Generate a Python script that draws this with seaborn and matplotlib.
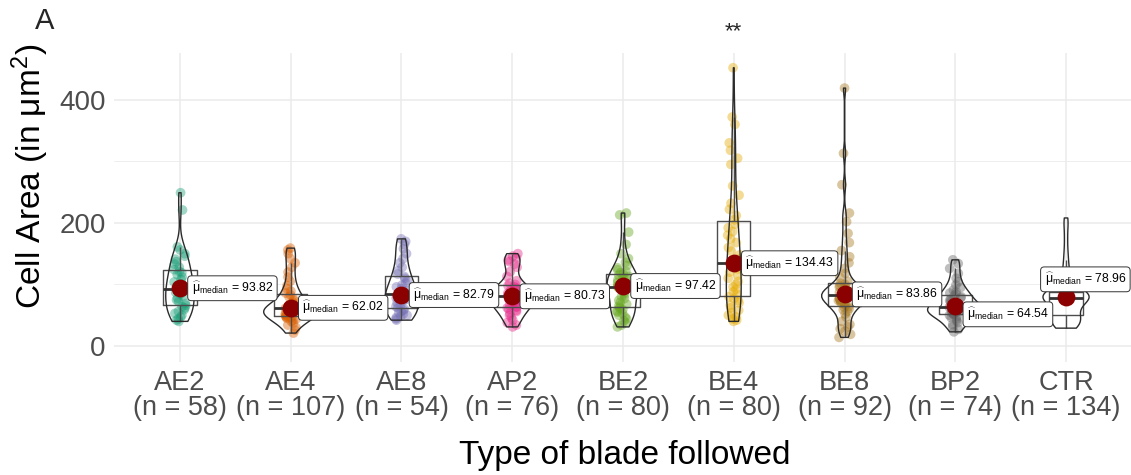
import numpy as np
import pandas as pd
import matplotlib
matplotlib.use("Agg")
import matplotlib.pyplot as plt
import seaborn as sns

# ---------------- data ----------------
groups = ["AE2", "AE4", "AE8", "AP2", "BE2", "BE4", "BE8", "BP2", "CTR"]
counts = [58, 107, 54, 76, 80, 80, 92, 74, 134]
medians = [93.82, 62.02, 82.79, 80.73, 97.42, 134.43, 83.86, 64.54, 78.96]

ae2 = [249, 221, 161, 156, 150, 146, 141, 137, 133, 128, 124, 121, 119, 116, 112,
       108, 104, 101, 98, 95, 93, 92, 90, 87, 84, 81, 78, 75, 72, 69, 66, 64, 62,
       59, 56, 53, 50, 47, 44, 42, 40]
ae4 = [159, 156, 150, 142, 135, 128, 120, 112, 105, 98, 93, 89, 86, 83, 80, 77, 74,
       71, 69, 67, 65, 64, 63, 62, 62, 61, 60, 59, 58, 57, 56, 55, 54, 53, 52, 51,
       50, 49, 48, 47, 46, 45, 44, 42, 40, 37, 34, 30, 26, 21]
ae8 = [174, 170, 165, 158, 150, 142, 135, 128, 122, 117, 113, 110, 106, 102, 99, 96,
       93, 90, 87, 85, 83, 82, 80, 78, 76, 73, 70, 67, 64, 62, 60, 58, 56, 54, 52,
       50, 48, 46, 44, 42]
ap2 = [150, 146, 143, 140, 137, 133, 128, 121, 113, 106, 102, 100, 98, 96, 94, 92,
       90, 88, 86, 85, 84, 83, 82, 81, 80, 79, 78, 77, 76, 74, 72, 70, 68, 66, 64,
       63, 62, 60, 58, 56, 53, 50, 46, 42, 38, 34, 31]
be2 = [216, 213, 185, 165, 150, 142, 136, 131, 127, 124, 121, 119, 117, 115, 113,
       111, 109, 107, 105, 103, 101, 99, 98, 97, 97, 96, 94, 92, 89, 86, 83, 80, 77,
       74, 71, 68, 65, 63, 61, 59, 57, 55, 53, 50, 47, 44, 41, 38, 34, 31]
be4 = [452, 372, 360, 330, 318, 305, 295, 260, 245, 232, 222, 212, 205, 198, 192,
       186, 180, 174, 168, 160, 154, 148, 142, 138, 135, 134, 130, 125, 120, 115,
       110, 105, 100, 96, 92, 88, 84, 80, 77, 74, 70, 66, 62, 58, 54, 50, 47, 44,
       42, 40]
be8 = [419, 313, 262, 216, 202, 183, 168, 155, 145, 135, 126, 118, 112, 105, 102,
       100, 98, 96, 94, 92, 90, 89, 88, 87, 86, 85, 84, 84, 83, 82, 81, 80, 79, 78,
       77, 76, 75, 74, 72, 70, 68, 66, 64, 63, 61, 59, 56, 52, 47, 40, 35, 31, 28,
       24, 19, 14]
bp2 = [140, 134, 126, 118, 110, 104, 99, 95, 91, 88, 86, 84, 82, 80, 78, 76, 74, 72,
       70, 68, 66, 65, 64, 63, 62, 61, 60, 59, 58, 57, 56, 55, 54, 53, 52, 51, 50,
       48, 46, 44, 41, 38, 35, 31, 27, 23]
ctr = [208, 195, 175, 155, 140, 128, 118, 110, 104, 98, 94, 91, 89, 87, 86, 85, 84,
       83, 82, 81, 80, 80, 79, 79, 79, 78, 77, 76, 74, 72, 70, 67, 64, 61, 58, 55,
       52, 50, 48, 46, 44, 42, 40, 38, 36, 34, 32, 31, 30, 29]

values = [ae2, ae4, ae8, ap2, be2, be4, be8, bp2, ctr]
point_colors = ["#1B9E77", "#D95F02", "#7570B3", "#E7298A", "#66A61E",
                "#E6AB02", "#A6761D", "#666666", None]   # Dark2 has no 9th colour

df = pd.DataFrame({"group": np.repeat(groups, [len(v) for v in values]),
                   "area": np.concatenate(values).astype(float)})
pts = df[df["group"] != "CTR"]
pal = {g: c for g, c in zip(groups, point_colors) if c is not None}

# ---------------- style ----------------
sns.set_style("white")
plt.rcParams["font.family"] = ["Liberation Sans", "DejaVu Sans"]
plt.rcParams["mathtext.fontset"] = "custom"
plt.rcParams["mathtext.rm"] = "Liberation Sans"
plt.rcParams["mathtext.it"] = "Liberation Sans:italic"
plt.rcParams["mathtext.bf"] = "Liberation Sans:bold"
plt.rcParams["mathtext.sf"] = "Liberation Sans"


def nrd0(kde):
    d = kde.dataset[0]
    sd = np.std(d, ddof=1)
    iqr = np.subtract(*np.percentile(d, [75, 25]))
    h = 0.9 * min(sd, iqr / 1.34) * len(d) ** -0.2
    return h / sd


fig = plt.figure(figsize=(11.31, 4.75), dpi=100)
ax = fig.add_axes([113.5 / 1131, 113 / 475, 1019 / 1131, 309 / 475])

np.random.seed(3)
sns.stripplot(data=pts, x="group", y="area", hue="group", order=groups,
              hue_order=list(pal.keys()), palette=pal, jitter=0.055, size=7,
              alpha=0.42, linewidth=0, legend=False, ax=ax, zorder=2)
sns.boxplot(data=df, x="group", y="area", order=groups, width=0.3, fill=False,
            color="#4D4D4D", linewidth=1.0, showfliers=False, showcaps=False,
            medianprops=dict(linewidth=2.0, color="#333333"), ax=ax, zorder=3)
sns.violinplot(data=df, x="group", y="area", order=groups, inner=None, fill=False,
               color="#2B2B2B", linewidth=1.0, density_norm="area", width=0.5,
               cut=0, bw_method=nrd0, ax=ax, zorder=4)

xs = np.arange(len(groups))
ax.scatter(xs, medians, s=165, color="#8B0000", zorder=6, linewidths=0)

label_offsets = [(8.4, 0)] * 7 + [(8.4, -5.8), (-15.5, 13)]
for x, m, (dx, dy) in zip(xs, medians, label_offsets):
    ax.annotate(r"$\widehat{\mathrm{\mu}}_{\mathrm{median}}$" + f" = {m:.2f}",
                xy=(x, m), xytext=(dx, dy), textcoords="offset points",
                ha="left", va="center", fontsize=8.8, color="black", zorder=7,
                bbox=dict(boxstyle="round,pad=0.32,rounding_size=0.3", fc="white",
                          ec="#333333", lw=0.7))

ax.text(5, 510, "**", ha="center", va="center", fontsize=16, clip_on=False)

ax.set_xlim(-0.6, 8.6)
ax.set_ylim(-26, 476)
ax.set_yticks([0, 200, 400])
ax.set_yticks([100, 300], minor=True)
ax.set_xticks(xs)
ax.set_xticklabels([f"{g}\n(n = {c})" for g, c in zip(groups, counts)],
                   fontsize=19.5, linespacing=0.95)
ax.tick_params(axis="y", labelsize=20)
ax.tick_params(axis="both", which="major", length=3.5, width=0.8, color="#333333",
               labelcolor="#4D4D4D", pad=2)
ax.tick_params(axis="y", which="minor", length=0)
ax.grid(True, which="major", color="#EBEBEB", lw=1.1)
ax.grid(True, which="minor", axis="y", color="#EBEBEB", lw=0.6)
ax.set_axisbelow(True)
for s in ax.spines.values():
    s.set_visible(False)

ax.set_xlabel("Type of blade followed", fontsize=24, color="black", va="center")
ax.set_ylabel(r"Cell Area (in μm$^2$)", fontsize=24, color="black", va="center",
              ha="center")
ax.xaxis.set_label_coords(0.502, -0.301)
ax.yaxis.set_label_coords(-0.082, 0.60)

fig.text(0.031, 0.955, "A", fontsize=21, va="center", ha="left")

fig.savefig("out.png", dpi=100)
